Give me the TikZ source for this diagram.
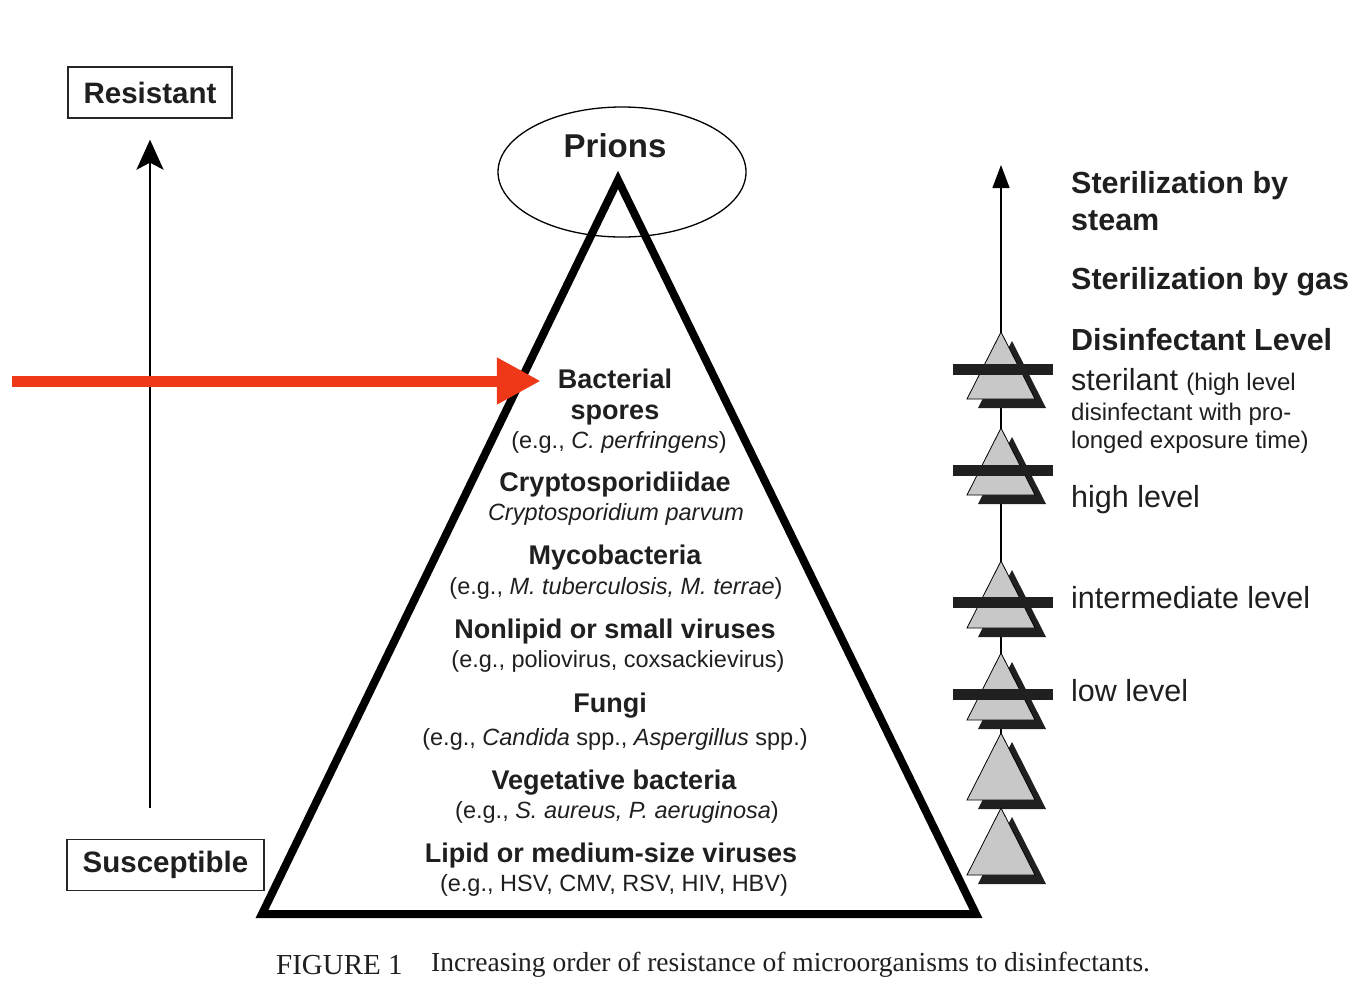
\documentclass[tikz,border=0pt]{standalone}
\usepackage{fontspec}
\setmainfont{Liberation Sans}
\newfontfamily\capfont{Liberation Serif}
\usetikzlibrary{arrows.meta,positioning}
\definecolor{alertred}{RGB}{238,56,24}
\definecolor{markgray}{RGB}{200,200,200}
\definecolor{markdark}{RGB}{32,32,32}
\newcommand{\fs}[1]{\fontsize{#1}{#1}\selectfont}

\begin{document}
\begin{tikzpicture}[x=1pt,y=-1pt,
    every node/.style={inner sep=0pt,text=black!88},
    endbox/.style={draw=black!85,line width=1.3pt,font=\fs{29.5}\bfseries,minimum height=51pt},
    grp/.style={anchor=base,font=\fs{27}\bfseries},
    eg/.style={anchor=base,font=\fs{23.5}},
    lvl/.style={anchor=base west,font=\fs{30.5}\bfseries},
    lvlname/.style={anchor=base west,font=\fs{30.5}},
    lvlnote/.style={anchor=base west,font=\fs{24}}]
    \useasboundingbox (0,0) rectangle (1357,989);

    % resistance scale on the left
    \node[endbox,minimum width=164pt] (res) at (150,92.5) {Resistant};
    \node[endbox,minimum width=197pt] (sus) at (165.5,865) {Susceptible};
    \coordinate (lowend) at (150,808);
    \draw[line width=2.8pt,-{Stealth[length=30pt,width=27pt,inset=7pt]},
        shorten >=21pt] (lowend) -- (res.south);

    % pyramid
    \draw[line width=1.3pt] (622,172) ellipse [x radius=124,y radius=65];
    \draw[line width=8pt,line join=miter] (618,180) -- (976,914)
        -- (262,914) -- cycle;
    \node[anchor=base,font=\fs{33}\bfseries] (prions) at (615,157) {Prions};

    \node[grp] (bact) at (615,388) {Bacterial};
    \node[grp] (spores) at (615,419) {spores};
    \node[eg] at (619,448) {(e.g., \textit{C. perfringens})};
    \node[grp] (crypto) at (615,491) {Cryptosporidiidae};
    \node[eg] at (616,520) {\textit{Cryptosporidium parvum}};
    \node[grp] (myco) at (615,564) {Mycobacteria};
    \node[eg] at (616,594) {(e.g., \textit{M. tuberculosis, M. terrae})};
    \node[grp] (nonlipid) at (615,638) {Nonlipid or small viruses};
    \node[eg] at (618,667) {(e.g., poliovirus, coxsackievirus)};
    \node[grp] (fungi) at (610,712) {Fungi};
    \node[eg] at (615,745) {(e.g., \textit{Candida} spp., \textit{Aspergillus} spp.)};
    \node[grp] (veget) at (614,789) {Vegetative bacteria};
    \node[eg] at (617,818) {(e.g., \textit{S. aureus, P. aeruginosa})};
    \node[grp] (lipid) at (611,862) {Lipid or medium-size viruses};
    \node[eg] at (614,891) {(e.g., HSV, CMV, RSV, HIV, HBV)};

    % red pointer
    \coordinate (redtail) at (12,381);
    \draw[alertred,line width=11pt,-{Triangle[length=44pt,width=44pt]},
        shorten >=17pt] (redtail) -- (bact.west |- redtail);

    % level scale on the right
    \coordinate (stem) at (1001,808);
    \coordinate (stemtop) at (1001,165);
    \draw[line width=1.4pt,-{Triangle[length=23pt,width=17pt]}] (stem) -- (stemtop);
    \foreach \a/\bary in {332/369,428/470,561/602,653/694,733/0,808/0} {
        \fill[markdark] (1012,\a+9) -- (1046,\a+76) -- (978,\a+76) -- cycle;
        \filldraw[fill=markgray,draw=black,line width=0.8pt]
            (1001,\a) -- (1035,\a+67) -- (967,\a+67) -- cycle;
        \ifnum\bary>0
            \fill[markdark] (953,\bary-5.5) rectangle (1053,\bary+5.5);
        \fi
    }

    \node[lvl] (steam) at (1071,193) {Sterilization by};
    \node[lvl] (steam2) at (1071,230) {steam};
    \node[lvl] (gas) at (1071,289) {Sterilization by gas};
    \node[lvl] (disinf) at (1071,350) {Disinfectant Level};
    \node[lvlname] (steril) at (1071,390) {sterilant {\fs{24}(high level}};
    \node[lvlnote] (steril2) at (1071,420) {disinfectant with pro-};
    \node[lvlnote] (steril3) at (1071,448) {longed exposure time)};
    \node[lvlname] (high) at (1071,507) {high level};
    \node[lvlname] (inter) at (1071,608) {intermediate level};
    \node[lvlname] (low) at (1071,701) {low level};

    % caption
    \node[anchor=base west,font=\capfont\fs{29}] (fig) at (276,974) {FIGURE 1};
    \node[anchor=base west,font=\capfont\fs{27.5}] (cap) at (431,971)
        {Increasing order of resistance of microorganisms to disinfectants.};
\end{tikzpicture}
\end{document}
